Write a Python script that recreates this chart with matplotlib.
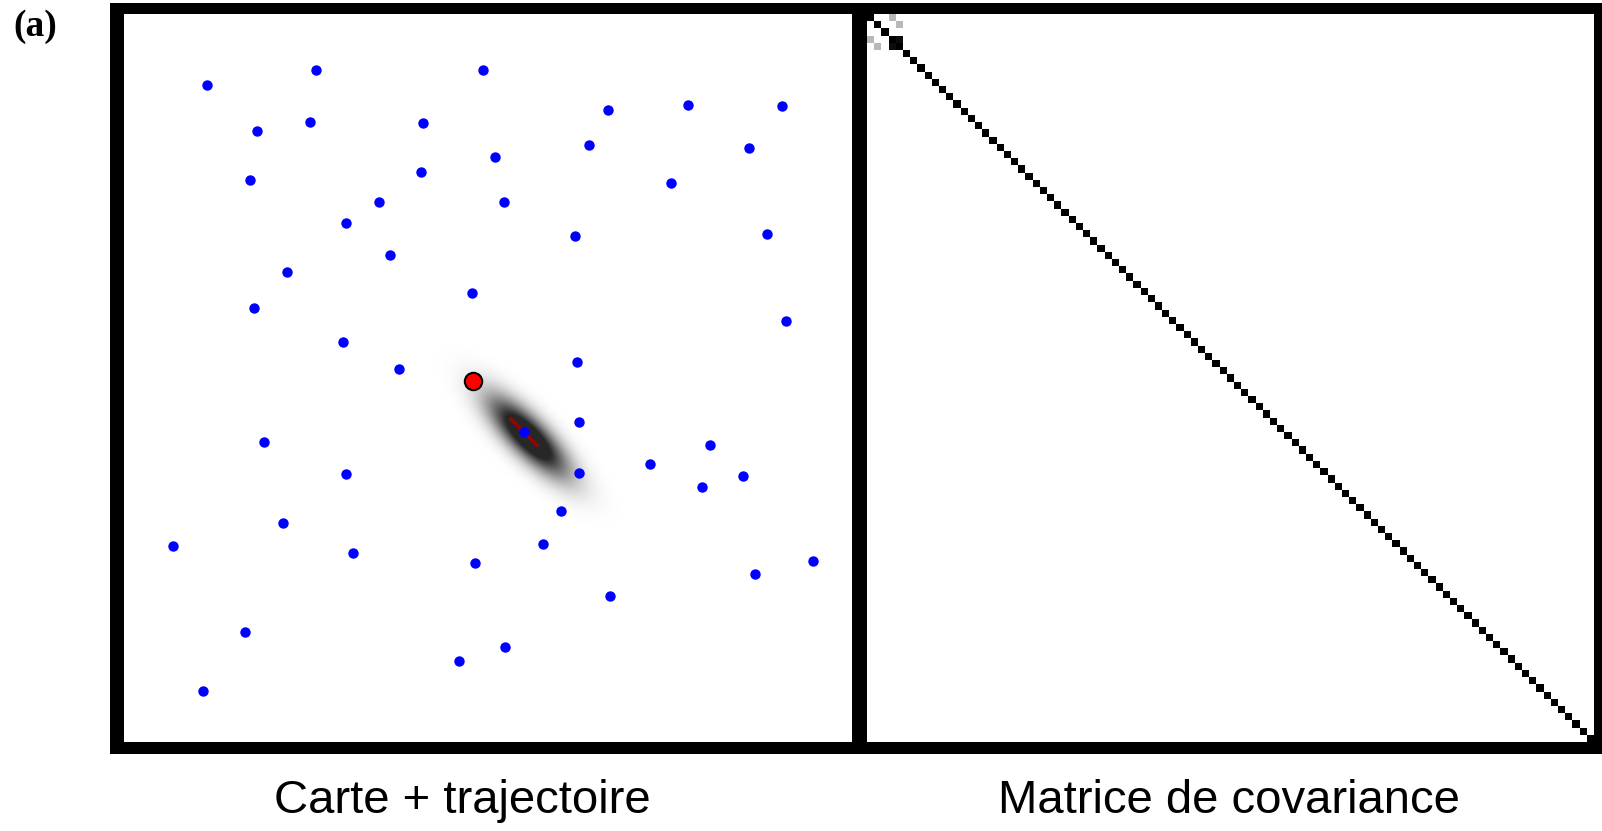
import numpy as np
import matplotlib
matplotlib.use("Agg")
import matplotlib.pyplot as plt

# ---------------- data: map (units 0..100) ----------------
landmark_x = [11.45, 26.33, 49.35, 18.33, 25.49, 41.07, 66.47, 77.42, 90.33, 17.35,
              40.79, 51.03, 63.94, 85.84, 75.17, 30.54, 35.03, 52.15, 61.98, 88.36,
              36.58, 22.40, 47.80, 17.91, 90.89, 30.12, 37.84, 62.26, 62.54, 19.17,
              80.50, 30.54, 62.54, 72.22, 85.00, 79.38, 60.01, 21.84, 6.68, 31.52,
              57.49, 48.22, 94.68, 86.68, 66.75, 16.65, 52.29, 45.98, 10.89]
landmark_y = [90.27, 92.24, 92.24, 83.96, 85.22, 85.08, 86.76, 87.47, 87.33, 77.22,
              78.34, 80.31, 81.99, 81.57, 76.80, 71.33, 74.13, 74.13, 69.50, 69.78,
              66.83, 64.59, 61.64, 59.68, 57.85, 54.91, 51.26, 52.24, 43.96, 41.15,
              40.73, 36.80, 36.94, 38.20, 36.52, 34.98, 31.75, 30.06, 26.98, 25.99,
              27.26, 24.59, 24.87, 23.05, 20.10, 15.05, 13.08, 11.12, 7.05]

robot_x, robot_y = 47.94, 49.57
new_lm_x, new_lm_y = 54.96, 42.55
ray_x = [53.0, 56.9]
ray_y = [44.5, 40.6]

gauss_mean_x, gauss_mean_y = 55.6, 41.9
gauss_sigma_major = 5.0
gauss_sigma_minor = 1.7
gauss_angle_deg = -45.0
gauss_peak = 0.85
gauss_gain = 1.4

# ---------------- data: covariance matrix ----------------
n_state = 101
robot_var = [1.0, 1.0, 1.0]
landmark_var = 1.0
new_lm_index = 3
new_lm_block = [[1.0, 0.95], [0.95, 1.0]]
cross_terms = [(0, 3, 0.28), (1, 4, 0.28)]

# ---------------- figure ----------------
W, H = 1602, 831
fig = plt.figure(figsize=(W / 100, H / 100), dpi=100)
fig.patch.set_facecolor("white")

def fx(px):
    return px / W

def fy(py):
    return 1 - py / H

# black frame behind the panels
axBG = fig.add_axes([fx(110), fy(754), fx(1602) - fx(110), fy(3) - fy(754)])
axBG.set_facecolor("black")
axBG.set_xticks([])
axBG.set_yticks([])
for s in axBG.spines.values():
    s.set_visible(False)

axL = fig.add_axes([fx(124), fy(742), fx(852) - fx(124), fy(14) - fy(742)])
axR = fig.add_axes([fx(867), fy(742), fx(1594) - fx(867), fy(14) - fy(742)])
for ax in (axL, axR):
    ax.set_facecolor("white")
    ax.set_xticks([])
    ax.set_yticks([])
    for s in ax.spines.values():
        s.set_visible(False)

# --- left: map + trajectory ---
gx = np.linspace(30, 80, 400)
gy = np.linspace(17, 67, 400)
GX, GY = np.meshgrid(gx, gy)
th = np.deg2rad(gauss_angle_deg)
dx = GX - gauss_mean_x
dy = GY - gauss_mean_y
u = dx * np.cos(th) + dy * np.sin(th)
v = -dx * np.sin(th) + dy * np.cos(th)
dens = np.exp(-0.5 * ((u / gauss_sigma_major) ** 2 + (v / gauss_sigma_minor) ** 2))
rgba = np.zeros(dens.shape + (4,))
rgba[..., 3] = gauss_peak * np.clip(gauss_gain * dens, 0, 1)
axL.imshow(rgba, extent=(gx[0], gx[-1], gy[0], gy[-1]), origin="lower",
           interpolation="bilinear", zorder=1)

axL.plot(ray_x, ray_y, color="#a00000", lw=2.2, zorder=2, solid_capstyle="butt")
axL.plot(landmark_x, landmark_y, "o", color="#0000ff", ms=7.5, mew=0, zorder=3)
axL.plot([new_lm_x], [new_lm_y], "o", color="#0000ff", ms=7.5, mew=0, zorder=3)
axL.plot([robot_x], [robot_y], "o", color="#ff0000", ms=12.5, mec="black", mew=1.5, zorder=4)
axL.set_xlim(0, 100)
axL.set_ylim(0, 100)
axL.set_aspect("auto")

# --- right: covariance matrix ---
P = np.zeros((n_state, n_state))
for i in range(n_state):
    P[i, i] = landmark_var
for i, val in enumerate(robot_var):
    P[i, i] = val
P[new_lm_index:new_lm_index + 2, new_lm_index:new_lm_index + 2] = np.array(new_lm_block)
for r, c, val in cross_terms:
    P[r, c] = val
    P[c, r] = val
axR.imshow(P, cmap="gray_r", vmin=0, vmax=1, interpolation="nearest",
           extent=(0, n_state, n_state, 0), aspect="auto")
axR.set_xlim(0, n_state)
axR.set_ylim(n_state, 0)

# --- texts ---
fig.text(fx(462.5), fy(813), "Carte + trajectoire", ha="center", va="baseline",
         fontsize=34, family="Liberation Sans")
fig.text(fx(1228.5), fy(813), "Matrice de covariance", ha="center", va="baseline",
         fontsize=34, family="Liberation Sans")
fig.text(fx(13), fy(36), "(a)", ha="left", va="baseline", fontsize=27,
         fontweight="bold", family="Liberation Serif")

fig.savefig("out.png", dpi=100, facecolor="white")
